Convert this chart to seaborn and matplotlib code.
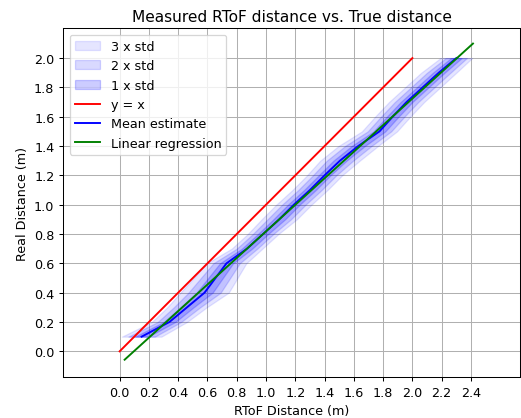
import numpy as np
import pandas as pd
import matplotlib
matplotlib.use("Agg")
import matplotlib.pyplot as plt
import seaborn as sns

# Real distance steps (m) and measured RToF statistics
real_dist = [0.1, 0.2, 0.3, 0.4, 0.5, 0.6, 0.7, 0.8, 0.9, 1.0,
             1.1, 1.2, 1.3, 1.4, 1.5, 1.6, 1.7, 1.8, 1.9, 2.0]
rtof_mean = [0.15, 0.34, 0.46, 0.58, 0.655, 0.73, 0.87, 0.98, 1.09, 1.19,
             1.30, 1.40, 1.505, 1.63, 1.775, 1.865, 1.96, 2.07, 2.18, 2.30]
rtof_std = [0.045, 0.04, 0.045, 0.055, 0.05, 0.045, 0.035, 0.035, 0.04, 0.04,
            0.04, 0.04, 0.045, 0.045, 0.04, 0.04, 0.04, 0.04, 0.04, 0.036]

# Linear regression (real = slope * rtof + intercept) and its plotted range
reg_slope = 0.906
reg_intercept = -0.088
reg_x = [0.034, 2.414]

# Identity reference line
ident = [0.0, 2.0]

df = pd.DataFrame({"real": real_dist, "mean": rtof_mean, "std": rtof_std})
reg_df = pd.DataFrame({"x": reg_x})
reg_df["y"] = reg_slope * reg_df["x"] + reg_intercept
ident_df = pd.DataFrame({"x": ident, "y": ident})

# 521x419 px at 92 dpi
fig = plt.figure(figsize=(521 / 92, 419 / 92), dpi=92)
ax = fig.add_axes([0.1215, 0.0986, 0.8765, 0.8314])

# std bands, drawn horizontally around the mean at each real distance
for k, a in [(3, 0.1), (2, 0.15), (1, 0.2)]:
    ax.fill_betweenx(df["real"], df["mean"] - k * df["std"], df["mean"] + k * df["std"],
                     color="blue", alpha=a, label=f"{k} x std")

sns.lineplot(data=ident_df, x="x", y="y", ax=ax, color="red", label="y = x")
sns.lineplot(data=df, x="mean", y="real", ax=ax, color="blue", sort=False,
             estimator=None, label="Mean estimate")
sns.lineplot(data=reg_df, x="x", y="y", ax=ax, color="green", label="Linear regression")

ax.set_xlim(-0.385, 2.735)
ax.set_ylim(-0.173, 2.203)
ax.set_xticks(np.arange(0, 2.41, 0.2))
ax.set_yticks(np.arange(0, 2.01, 0.2))
ax.grid(True)
ax.set_axisbelow(True)

ax.set_title("Measured RToF distance vs. True distance")
ax.set_xlabel("RToF Distance (m)")
ax.set_ylabel("Real Distance (m)")
ax.legend(loc="upper left")

fig.savefig("out.png", dpi=92)
